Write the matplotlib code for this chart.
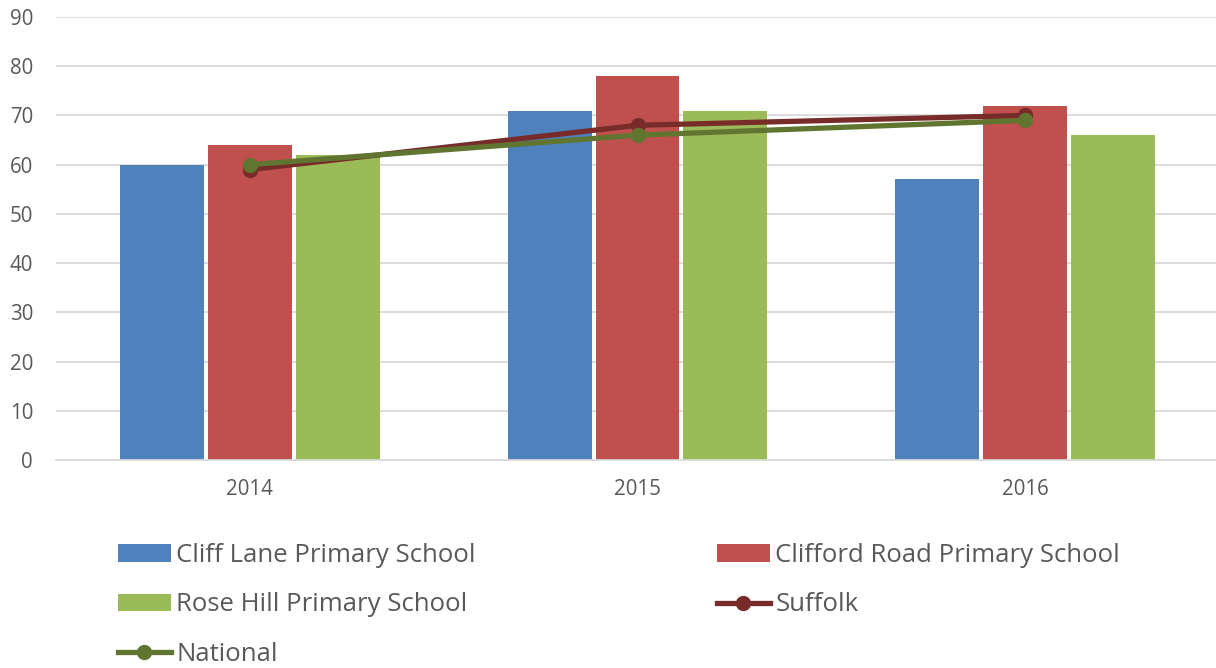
import matplotlib.pyplot as plt
import numpy as np

plt.rcParams['font.family'] = ['Open Sans', 'DejaVu Sans']

years = ['2014', '2015', '2016']
cliff_lane = [60, 71, 57]
clifford_road = [64, 78, 72]
rose_hill = [62, 71, 66]
suffolk = [59, 68, 70]
national = [60, 66, 69]

fig = plt.figure(figsize=(12.16, 6.68), dpi=100)
ax = fig.add_axes([56 / 1216, 1 - 460 / 668, 1163 / 1216, 443 / 668])

x = np.arange(len(years))
w = 0.2165
step = 0.2268
b1 = ax.bar(x - step, cliff_lane, w, color='#4F81BD', label='Cliff Lane Primary School', zorder=2)
b2 = ax.bar(x, clifford_road, w, color='#C0504D', label='Clifford Road Primary School', zorder=2)
b3 = ax.bar(x + step, rose_hill, w, color='#9BBB59', label='Rose Hill Primary School', zorder=2)
l1, = ax.plot(x, suffolk, color='#772C2A', lw=3.8, marker='o', ms=10, label='Suffolk', zorder=3)
l2, = ax.plot(x, national, color='#5F7530', lw=3.8, marker='o', ms=10, label='National', zorder=4)

ax.set_xlim(-0.5, 2.5)
ax.set_ylim(0, 90)
ax.set_yticks(range(0, 91, 10))
ax.set_xticks(x)
ax.set_xticklabels(years)
ax.yaxis.grid(True, color='#D9D9D9', lw=1.3, zorder=0)
ax.set_axisbelow(True)
for s in ['top', 'right', 'left']:
    ax.spines[s].set_visible(False)
ax.spines['bottom'].set_color('#D9D9D9')
ax.spines['bottom'].set_linewidth(1.3)
ax.tick_params(length=0, labelsize=14.8, colors='#595959')
ax.tick_params(axis='x', pad=14)
ax.tick_params(axis='y', pad=16.5)

leg_kw = dict(frameon=False, fontsize=18.5, handlelength=2.05, handleheight=0.66,
              handletextpad=0.22, labelspacing=0.95, labelcolor='#595959',
              borderpad=0, borderaxespad=0, loc='upper left')
leg1 = fig.legend([b1, b3, l2], ['Cliff Lane Primary School', 'Rose Hill Primary School', 'National'],
                  bbox_to_anchor=(118 / 1216, 1 - 543 / 668), **leg_kw)
leg2 = fig.legend([b2, l1], ['Clifford Road Primary School', 'Suffolk'],
                  bbox_to_anchor=(717 / 1216, 1 - 543 / 668), **leg_kw)

fig.savefig('out.png', dpi=100)
